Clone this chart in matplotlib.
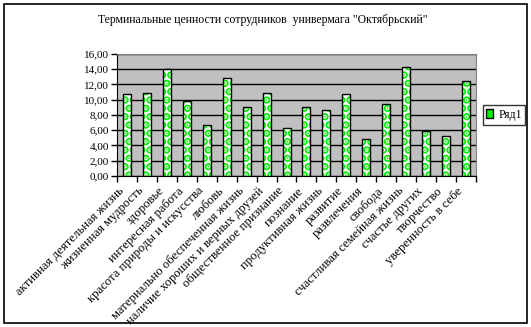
import matplotlib
matplotlib.use("Agg")
import matplotlib.pyplot as plt
from matplotlib.patches import Rectangle
import matplotlib.transforms as mtransforms
import numpy as np

plt.rcParams['font.family'] = ['Liberation Serif', 'DejaVu Serif']
plt.rcParams['hatch.linewidth'] = 4.0

title = 'Терминальные ценности сотрудников  универмага "Октябрьский"'
categories = [
    'активная деятельная жизнь', 'жизненная мудрость', 'здоровье',
    'интересная работа', 'красота природы и искусства', 'любовь',
    'материально обеспеченная жизнь', 'наличие хороших и верных друзей',
    'общественное признание', 'познание', 'продуктивная жизнь', 'развитие',
    'развлечения', 'свобода', 'счастливая семейная жизнь', 'счастье других',
    'творчество', 'уверенность в себе',
]
values = [10.7, 10.9, 14.0, 9.9, 6.65, 12.9, 9.0, 10.9, 6.25, 9.1, 8.7,
          10.7, 4.9, 9.5, 14.25, 5.95, 5.2, 12.4]
series_name = 'Ряд1'
yticks = [0, 2, 4, 6, 8, 10, 12, 14, 16]

W, H = 531, 327
fig = plt.figure(figsize=(W / 100, H / 100), dpi=100)
fig.patch.set_facecolor('white')
fig.add_artist(Rectangle((4 / W, 4 / H), 523 / W, 319 / H, transform=fig.transFigure,
                         fill=False, edgecolor='black', linewidth=1.2))

ax = fig.add_axes([117 / W, 1 - 176 / H, (476 - 117) / W, (176 - 54) / H])
ax.set_facecolor('#c0c0c0')
for s in ax.spines.values():
    s.set_color('#808080')
ax.spines['left'].set_color('black')
ax.spines['bottom'].set_color('black')

x = np.arange(len(categories))
ax.bar(x, values, width=0.4, color='white', edgecolor='#00ee00', hatch='..',
       linewidth=0, zorder=3)
ax.bar(x, values, width=0.4, fill=False, edgecolor='black', linewidth=1.0,
       zorder=4, label=series_name)

ax.set_ylim(0, 16)
ax.set_xlim(-0.5, len(categories) - 0.5)
ax.set_yticks(yticks)
ax.set_yticklabels([f'{v:.2f}'.replace('.', ',') for v in yticks], fontsize=8)
ax.yaxis.grid(True, color='black', linewidth=1.0, zorder=1)
ax.set_axisbelow(True)

ax.set_xticks(np.arange(len(categories) + 1) - 0.5)
ax.set_xticklabels([])
ax.tick_params(axis='x', direction='out', length=4, width=1)
ax.tick_params(axis='y', direction='out', length=4, width=1, pad=2)
trans = mtransforms.offset_copy(ax.get_xaxis_transform(), fig=fig, x=-9, y=-9, units='dots')
for xi, lab in zip(x, categories):
    ax.text(xi, 0, lab, rotation=45, ha='right', va='top',
            rotation_mode='anchor', fontsize=9.2, transform=trans)

fig.text(263 / W, 1 - 20 / H, title, ha='center', va='center', fontsize=8.5)

leg = fig.legend(handles=[Rectangle((0, 0), 1, 1, facecolor='#00ee00', edgecolor='black')],
                 labels=[series_name], loc='center', bbox_to_anchor=(504 / W, 1 - 115 / H),
                 fontsize=8.5, frameon=True, fancybox=False, handlelength=0.6,
                 handleheight=0.8, handletextpad=0.4, borderpad=0.3)
leg.get_frame().set_edgecolor('black')
leg.get_frame().set_linewidth(1.0)

fig.savefig('out.png', dpi=100)
